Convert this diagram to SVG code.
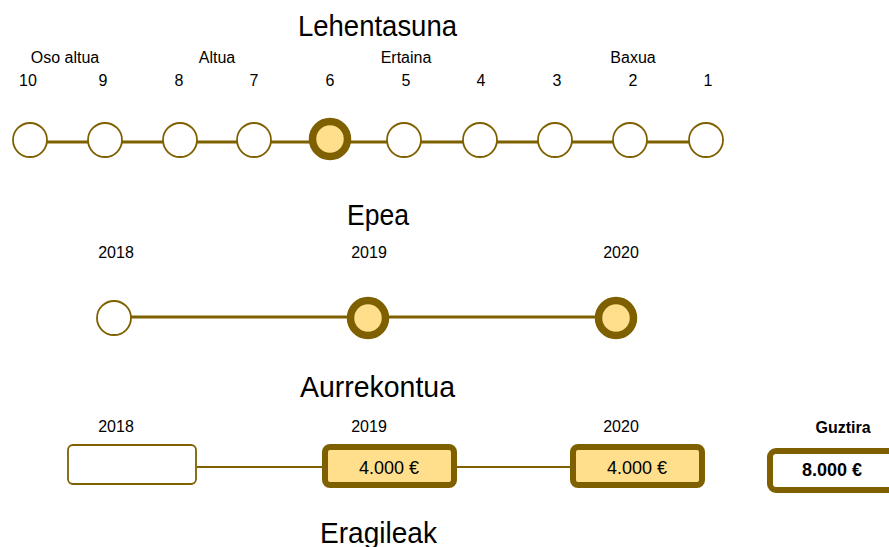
<svg xmlns="http://www.w3.org/2000/svg" width="889" height="547" viewBox="0 0 889 547">
<style>
.title{font-family:"Liberation Sans",Arial,sans-serif;font-size:29px;fill:#000}
.lbl{font-family:"Liberation Sans",Arial,sans-serif;font-size:16px;fill:#000;text-anchor:middle}
.val{font-family:"Liberation Sans",Arial,sans-serif;font-size:18px;fill:#000;text-anchor:middle}
.b{font-weight:bold}
.off{fill:#fff;stroke:#7F6000;stroke-width:1.8}
.on{fill:#FFDE8C;stroke:#7F6000;stroke-width:7.5}
.tot{fill:#fff;stroke:#7F6000;stroke-width:6}
.ln{stroke:#7F6000;stroke-width:3;fill:none}
.ln2{stroke:#7F6000;stroke-width:2;fill:none}
</style>
<rect width="889" height="547" fill="#fff"/>
<g id="titles">
<text class="title" x="298" y="36" textLength="159" lengthAdjust="spacingAndGlyphs">Lehentasuna</text>
<text class="title" x="347" y="225" textLength="62" lengthAdjust="spacingAndGlyphs">Epea</text>
<text class="title" x="300" y="397" textLength="155" lengthAdjust="spacingAndGlyphs">Aurrekontua</text>
<text class="title" x="320" y="543" textLength="117" lengthAdjust="spacingAndGlyphs">Eragileak</text>
</g>
<g id="priority-labels">
<text class="lbl" x="65" y="63">Oso altua</text>
<text class="lbl" x="217" y="63">Altua</text>
<text class="lbl" x="406" y="63">Ertaina</text>
<text class="lbl" x="633" y="63">Baxua</text>
<text class="lbl" x="28" y="86">10</text>
<text class="lbl" x="103" y="86">9</text>
<text class="lbl" x="179" y="86">8</text>
<text class="lbl" x="254" y="86">7</text>
<text class="lbl" x="330" y="86">6</text>
<text class="lbl" x="406" y="86">5</text>
<text class="lbl" x="481" y="86">4</text>
<text class="lbl" x="557" y="86">3</text>
<text class="lbl" x="633" y="86">2</text>
<text class="lbl" x="708" y="86">1</text>
</g>
<g id="connectors">
<line class="ln" x1="30" y1="142" x2="706" y2="142"/>
<line class="ln" x1="114" y1="317" x2="616" y2="317"/>
<line class="ln2" x1="197" y1="467" x2="325" y2="467"/>
<line class="ln2" x1="454" y1="467" x2="573" y2="467"/>
</g>
<g id="p10"><circle class="off" cx="30" cy="140" r="17"/></g>
<g id="p9"><circle class="off" cx="105" cy="140" r="17"/></g>
<g id="p8"><circle class="off" cx="180" cy="140" r="17"/></g>
<g id="p7"><circle class="off" cx="254" cy="140" r="17"/></g>
<g id="p6"><circle class="on" cx="330" cy="139" r="17.5"/></g>
<g id="p5"><circle class="off" cx="404" cy="140" r="17"/></g>
<g id="p4"><circle class="off" cx="480" cy="140" r="17"/></g>
<g id="p3"><circle class="off" cx="555" cy="140" r="17"/></g>
<g id="p2"><circle class="off" cx="630" cy="140" r="17"/></g>
<g id="p1"><circle class="off" cx="706" cy="140" r="17"/></g>
<g id="epea-labels">
<text class="lbl" x="116" y="258">2018</text>
<text class="lbl" x="369" y="258">2019</text>
<text class="lbl" x="621" y="258">2020</text>
</g>
<g id="e2018"><circle class="off" cx="114" cy="318" r="17"/></g>
<g id="e2019"><circle class="on" cx="368" cy="318" r="17.5"/></g>
<g id="e2020"><circle class="on" cx="616" cy="318" r="17.5"/></g>
<g id="budget-labels">
<text class="lbl" x="116" y="432">2018</text>
<text class="lbl" x="369" y="432">2019</text>
<text class="lbl" x="621" y="432">2020</text>
<text class="lbl b" x="843" y="433">Guztira</text>
</g>
<g id="b2018"><rect class="off" x="68" y="445" width="128" height="39" rx="5"/></g>
<g id="b2019"><rect class="on" x="325" y="447" width="129" height="38" rx="5" style="stroke-width:6"/><text class="val" x="389" y="474">4.000 €</text></g>
<g id="b2020"><rect class="on" x="573" y="447" width="129" height="38" rx="5" style="stroke-width:6"/><text class="val" x="637" y="474">4.000 €</text></g>
<g id="btotal"><rect class="tot" x="770" y="451" width="140" height="39" rx="6"/><text class="val b" x="832" y="476">8.000 €</text></g>
</svg>
